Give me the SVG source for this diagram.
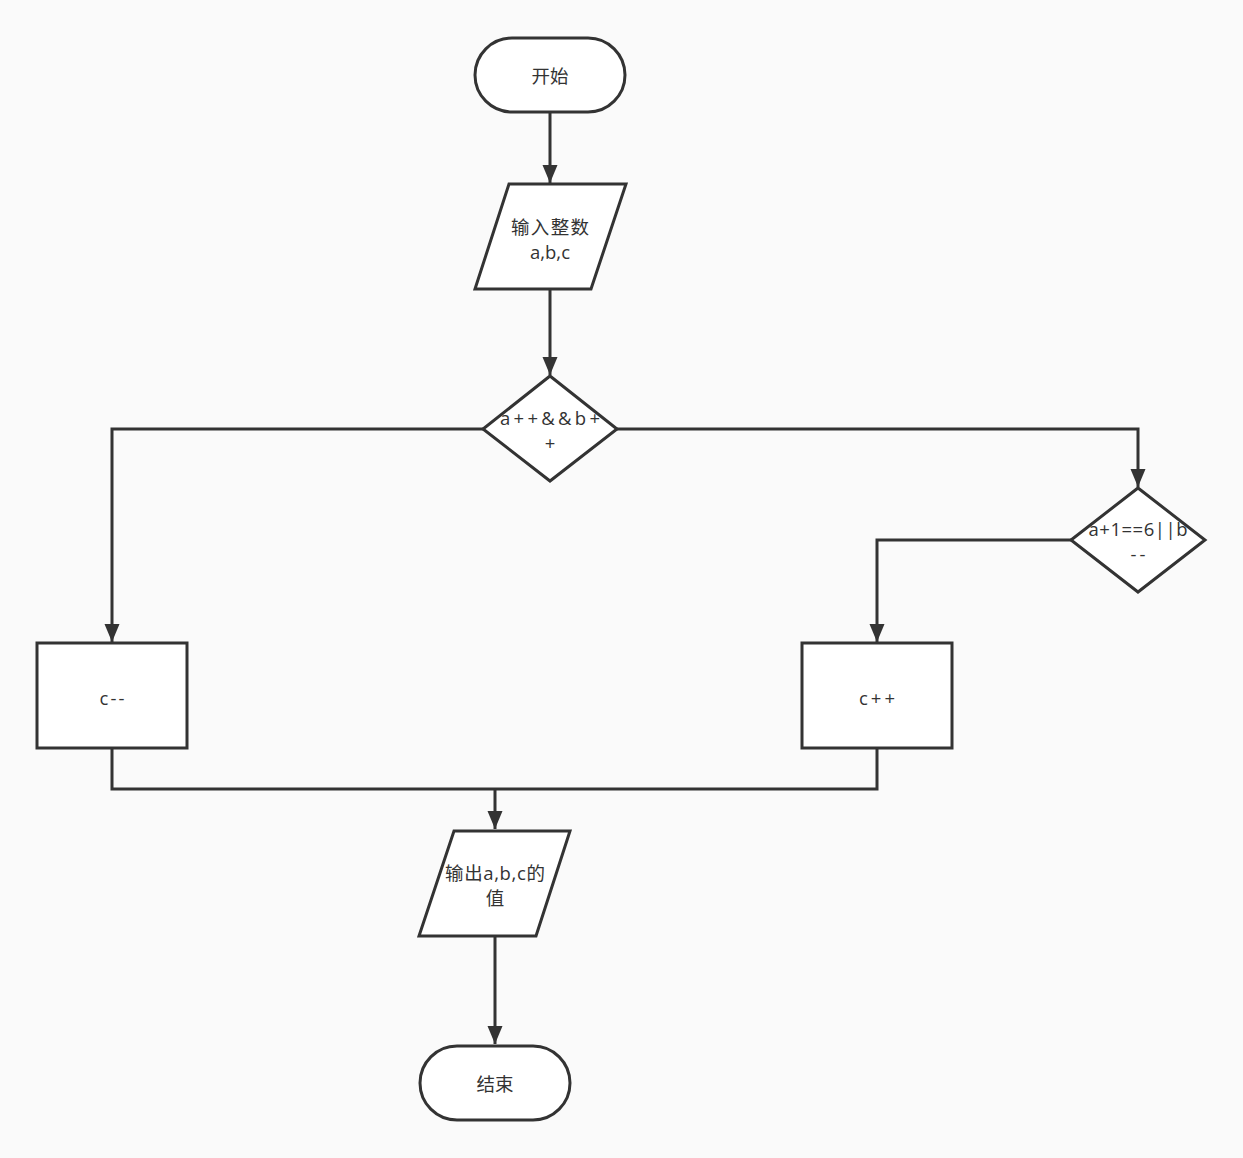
<svg xmlns="http://www.w3.org/2000/svg" width="1243" height="1158" viewBox="0 0 1243 1158">
<defs>
<style>
.shape{fill:#ffffff;stroke:#333333;stroke-width:3;}
.edge{fill:none;stroke:#333333;stroke-width:3;}
.t{font-family:"Open Sans","Noto Sans CJK SC",sans-serif;font-size:18.5px;fill:#333333;text-anchor:middle;}
</style>
<marker id="arr" markerUnits="userSpaceOnUse" markerWidth="20" markerHeight="16" viewBox="0 0 20 16" refX="19" refY="8" orient="auto">
<path d="M1,0.5 L19,8 L1,15.5 Z" fill="#333333"/>
</marker>
</defs>
<rect width="1243" height="1158" fill="#fafafa"/>
<g id="connectors">
<path class="edge" d="M550,113 V183" marker-end="url(#arr)"/>
<path class="edge" d="M550,289 V375" marker-end="url(#arr)"/>
<path class="edge" d="M483,429 H112 V642" marker-end="url(#arr)"/>
<path class="edge" d="M617,429 H1138 V487" marker-end="url(#arr)"/>
<path class="edge" d="M1071,540 H877 V642" marker-end="url(#arr)"/>
<path class="edge" d="M112,748 V789 H877 V748"/>
<path class="edge" d="M495,789 V829" marker-end="url(#arr)"/>
<path class="edge" d="M495,936 V1044" marker-end="url(#arr)"/>
</g>
<g id="start">
<rect class="shape" x="475" y="38" width="150" height="74" rx="37" ry="37"/>
<text class="t" x="550" y="83">开始</text>
</g>
<g id="input">
<polygon class="shape" points="509,184 626,184 591,289 475,289"/>
<text class="t" x="550" y="234" textLength="78" lengthAdjust="spacing">输入整数</text>
<text class="t" x="550" y="259">a,b,c</text>
</g>
<g id="cond1">
<polygon class="shape" points="550,376 617,429 550,481 483,429"/>
<text class="t" x="550" y="425" textLength="100" lengthAdjust="spacing">a++&amp;&amp;b+</text>
<text class="t" x="550" y="450">+</text>
</g>
<g id="cond2">
<polygon class="shape" points="1138,488 1205,540 1138,592 1071,540"/>
<text class="t" x="1138" y="536" textLength="99" lengthAdjust="spacing">a+1==6||b</text>
<text class="t" x="1138" y="561" textLength="15" lengthAdjust="spacing">--</text>
</g>
<g id="decc">
<rect class="shape" x="37" y="643" width="150" height="105"/>
<text class="t" x="112" y="705" textLength="25" lengthAdjust="spacing">c--</text>
</g>
<g id="incc">
<rect class="shape" x="802" y="643" width="150" height="105"/>
<text class="t" x="877" y="705" textLength="36" lengthAdjust="spacing">c++</text>
</g>
<g id="output">
<polygon class="shape" points="454,831 570,831 536,936 419,936"/>
<text class="t" x="495" y="880" textLength="100" lengthAdjust="spacing">输出a,b,c的</text>
<text class="t" x="495" y="905">值</text>
</g>
<g id="end">
<rect class="shape" x="420" y="1046" width="150" height="74" rx="37" ry="37"/>
<text class="t" x="495" y="1091">结束</text>
</g>
</svg>
